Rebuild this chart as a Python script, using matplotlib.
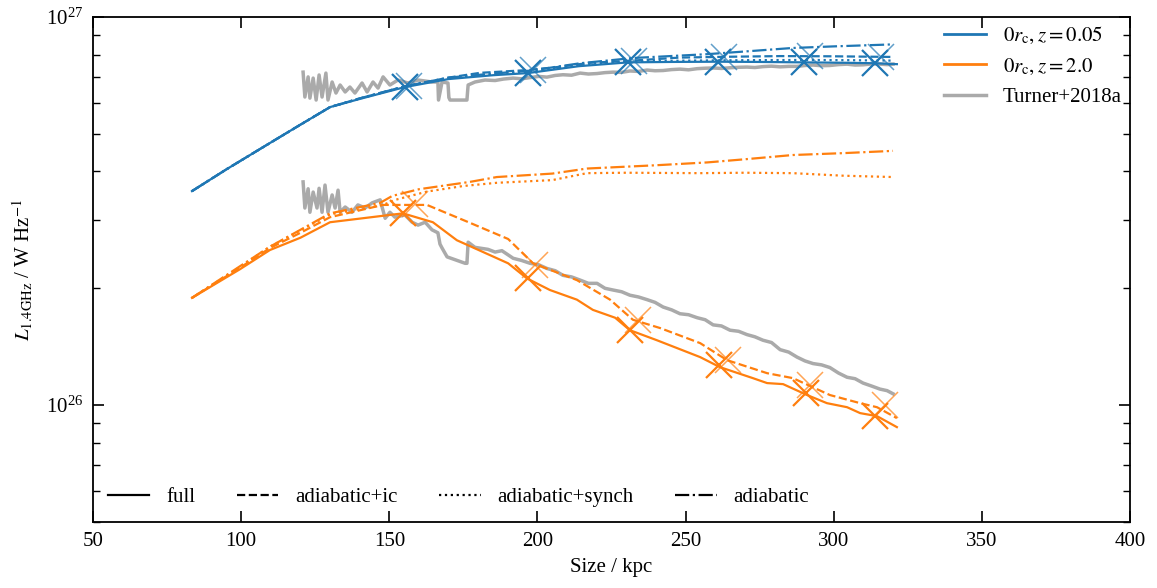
import matplotlib
matplotlib.use("Agg")
import matplotlib.pyplot as plt
from matplotlib.ticker import NullFormatter, LogLocator
from matplotlib.lines import Line2D

plt.rcParams['font.family'] = ['Liberation Serif', 'DejaVu Serif']
plt.rcParams['mathtext.fontset'] = 'stix'
plt.rcParams['font.size'] = 15

E26 = 1e26
BLUE = '#1f77b4'
ORANGE = '#ff7f0e'
GREY = '#aaaaaa'

# z = 0.05, luminosity in units of 1e26 W/Hz
b_full_x = [83.4, 95, 110, 120, 130, 140, 155.3, 170, 185, 196.8, 214, 230.6, 245, 261, 275, 290, 305, 313.9, 321.3]
b_full_y = [3.56, 4.05, 4.75, 5.28, 5.86, 6.15, 6.6, 6.92, 7.08, 7.17, 7.47, 7.64, 7.66, 7.67, 7.66, 7.64, 7.62, 7.6, 7.56]
b_ic_x = [83.4, 95, 110, 120, 130, 140, 155.3, 170, 180.6, 196.8, 206.6, 217.7, 232, 248, 265, 282, 300, 320]
b_ic_y = [3.56, 4.05, 4.75, 5.28, 5.86, 6.17, 6.63, 6.98, 7.18, 7.3, 7.43, 7.62, 7.72, 7.86, 7.9, 7.93, 7.92, 7.89]
b_syn_x = [83.4, 95, 110, 120, 130, 140, 155.3, 170, 185, 198, 214, 231, 250, 270, 290, 305, 320]
b_syn_y = [3.56, 4.05, 4.75, 5.28, 5.86, 6.16, 6.62, 6.95, 7.12, 7.22, 7.5, 7.68, 7.72, 7.74, 7.75, 7.74, 7.72]
b_adi_x = [83.4, 95, 110, 120, 130, 140, 155.3, 170, 185, 198, 214.4, 232.2, 257.2, 270, 286, 300, 320]
b_adi_y = [3.56, 4.05, 4.75, 5.28, 5.86, 6.17, 6.63, 6.98, 7.15, 7.28, 7.6, 7.84, 8.02, 8.15, 8.32, 8.4, 8.5]

# z = 2.0
o_full_x = [83.4, 99.6, 109.7, 120, 130, 154.6, 164.7, 172.8, 190.1, 196.5, 204.2, 213.3, 218.7, 226.2, 231.2,
            240.3, 254.9, 261.6, 272.7, 277.5, 282.9, 291.0, 297.7, 304.5, 308.9, 314.6, 321.3]
o_full_y = [1.89, 2.24, 2.51, 2.7, 2.96, 3.12, 2.96, 2.66, 2.32, 2.12, 1.98, 1.87, 1.76, 1.68, 1.56,
            1.47, 1.33, 1.253, 1.174, 1.14, 1.133, 1.062, 1.012, 0.988, 0.954, 0.937, 0.878]
o_ic_x = [83.4, 99.6, 109.7, 120, 130, 147.9, 162.7, 177.2, 190.1, 198.5, 213.3, 224.5, 232.2, 241.4,
          254.9, 264.0, 277.5, 286.2, 298.7, 308.9, 314.6, 321.3]
o_ic_y = [1.89, 2.26, 2.54, 2.78, 3.05, 3.28, 3.28, 2.95, 2.68, 2.32, 2.10, 1.87, 1.66, 1.58,
          1.445, 1.306, 1.209, 1.174, 1.062, 1.012, 0.988, 0.926]
o_syn_x = [83.4, 99.6, 109.7, 120, 130, 147.9, 152, 162.7, 175, 186.3, 205, 216.7, 230, 254.9, 270, 286.2, 303.4, 320]
o_syn_y = [1.89, 2.27, 2.56, 2.82, 3.1, 3.28, 3.38, 3.55, 3.67, 3.74, 3.8, 3.96, 3.97, 3.96, 3.97, 3.96, 3.9, 3.87]
o_adi_x = [83.4, 99.6, 109.7, 120, 130, 146.9, 151, 160, 177.2, 186.3, 205, 216.7, 240, 257.2, 270, 286.2, 303.4, 320]
o_adi_y = [1.89, 2.28, 2.56, 2.83, 3.12, 3.32, 3.46, 3.6, 3.76, 3.87, 3.95, 4.07, 4.15, 4.22, 4.3, 4.41, 4.46, 4.52]

# time-step markers
b_mk_x = [155.3, 196.8, 230.6, 261.0, 290.0, 313.9]
b_mk_y = [6.6, 7.17, 7.64, 7.67, 7.64, 7.6]
b_mk_ic_x = [156.5, 198.5, 232.5, 263.0, 292.0, 316.0]
b_mk_ic_y = [6.63, 7.32, 7.72, 7.87, 7.93, 7.91]
o_mk_x = [154.6, 196.8, 231.2, 261.3, 290.6, 313.9]
o_mk_y = [3.12, 2.12, 1.56, 1.268, 1.074, 0.94]
o_mk_ic_x = [158.7, 199.2, 234.0, 264.3, 292.0, 317.3]
o_mk_ic_y = [3.3, 2.3, 1.66, 1.31, 1.13, 1.0]

# Turner+2018a, upper track
t1_x = [120.9, 121.5, 122.6, 123.2, 124.3, 125.3, 126.3, 127.3, 128.6, 129.3, 130.7, 132.0, 133.4, 135.1,
        136.7, 138.4, 140.8, 142.5, 144.5, 146.2, 147.9, 150.2, 152.9, 156.3, 159.7, 164.4, 166.4, 166.6,
        167.8, 169.8, 170.1, 170.5, 176.2, 176.4, 176.6, 178.9, 182.3, 185.7, 188.5, 191.8, 194.6, 197.5,
        200.4, 203.2, 206.0, 208.6, 211.5, 214.4, 217.2, 220.1, 222.8, 225.5, 228.4, 231.2, 234.1, 237.0,
        239.7, 242.4, 245.3, 248.1, 251.0, 253.9, 256.6, 259.3, 262.1, 265.0, 267.9, 270.7, 273.4, 276.1,
        279.0, 281.9, 284.8, 287.6, 290.3, 293.0, 295.9, 298.7, 301.6, 304.5, 307.2, 309.9, 312.8, 315.6,
        318.0, 320.0]
t1_y = [7.21, 6.22, 7.01, 6.18, 6.96, 6.11, 7.09, 6.22, 7.17, 6.11, 6.8, 6.37, 6.68, 6.41,
        6.6, 6.37, 6.76, 6.41, 6.8, 6.56, 7.01, 6.68, 6.88, 6.76, 6.88, 6.8, 6.8, 6.11,
        6.8, 6.76, 6.2, 6.11, 6.11, 6.4, 6.68, 6.8, 6.88, 6.86, 6.92, 6.96, 6.93, 6.98,
        7.03, 7.0, 7.07, 7.1, 7.08, 7.17, 7.13, 7.15, 7.19, 7.21, 7.2, 7.26, 7.24, 7.3,
        7.27, 7.28, 7.32, 7.34, 7.31, 7.36, 7.38, 7.39, 7.37, 7.4, 7.42, 7.43, 7.41, 7.45,
        7.47, 7.44, 7.46, 7.46, 7.5, 7.52, 7.49, 7.5, 7.54, 7.56, 7.52, 7.53, 7.57, 7.56,
        7.54, 7.56]

# Turner+2018a, lower track
t2_x = [120.9, 121.5, 122.6, 123.2, 124.3, 125.6, 126.3, 127.3, 128.3, 129.3, 130.7, 131.7, 132.7, 133.4,
        135.1, 137.4, 139.4, 141.8, 144.2, 146.9, 148.6, 150.2, 151.9, 155.3, 157.7, 159.7, 162.1, 164.4,
        166.4, 167.1, 167.8, 169.5, 175.6, 176.2, 176.6, 178.9, 183.3, 185.7, 188.0, 191.8, 194.6, 197.5,
        200.4, 203.2, 206.0, 208.6, 211.5, 214.4, 217.2, 220.1, 222.8, 225.5, 228.4, 231.2, 234.1, 237.0,
        239.7, 242.4, 245.3, 248.1, 251.0, 253.9, 256.6, 259.3, 262.1, 265.0, 267.9, 270.7, 273.4, 276.1,
        279.0, 281.9, 284.8, 287.6, 290.3, 293.0, 295.9, 298.7, 301.6, 304.5, 307.2, 309.9, 312.8, 315.6,
        318.0, 320.0]
t2_y = [3.76, 3.22, 3.61, 3.14, 3.54, 3.22, 3.62, 3.14, 3.69, 3.14, 3.48, 3.22, 3.58, 3.14,
        3.24, 3.14, 3.28, 3.22, 3.32, 3.38, 3.03, 3.14, 3.05, 3.09, 2.96, 2.91, 2.96, 2.83,
        2.78, 2.6, 2.54, 2.41, 2.32, 2.32, 2.63, 2.55, 2.52, 2.48, 2.5, 2.39, 2.36, 2.32,
        2.3, 2.25, 2.22, 2.16, 2.14, 2.1, 2.06, 2.06, 2.0, 1.98, 1.96, 1.92, 1.9, 1.87,
        1.84, 1.79, 1.76, 1.72, 1.71, 1.68, 1.66, 1.61, 1.6, 1.56, 1.55, 1.52, 1.5, 1.47,
        1.45, 1.39, 1.37, 1.33, 1.3, 1.28, 1.27, 1.25, 1.21, 1.18, 1.17, 1.14, 1.12, 1.1,
        1.09, 1.07]

fig = plt.figure(figsize=(11.57, 5.88), dpi=100)
ax = fig.add_axes([0.0804, 0.1122, 0.8963, 0.8589])

def sc(v):
    return [a * E26 for a in v]

ax.plot(t1_x, sc(t1_y), color=GREY, lw=2.5, zorder=1)
ax.plot(t2_x, sc(t2_y), color=GREY, lw=2.5, zorder=1)

for col, full, ic, syn, adi, mk, mkic in [
        (BLUE, (b_full_x, b_full_y), (b_ic_x, b_ic_y), (b_syn_x, b_syn_y), (b_adi_x, b_adi_y),
         (b_mk_x, b_mk_y), (b_mk_ic_x, b_mk_ic_y)),
        (ORANGE, (o_full_x, o_full_y), (o_ic_x, o_ic_y), (o_syn_x, o_syn_y), (o_adi_x, o_adi_y),
         (o_mk_x, o_mk_y), (o_mk_ic_x, o_mk_ic_y))]:
    ax.plot(full[0], sc(full[1]), color=col, lw=1.6, ls='-', zorder=3)
    ax.plot(ic[0], sc(ic[1]), color=col, lw=1.6, ls='--', zorder=3)
    ax.plot(syn[0], sc(syn[1]), color=col, lw=1.6, ls=':', zorder=3)
    ax.plot(adi[0], sc(adi[1]), color=col, lw=1.6, ls='-.', zorder=3)
    ax.plot(mk[0], sc(mk[1]), ls='none', marker='x', ms=19, mew=1.6, color=col, zorder=4)
    ax.plot(mkic[0], sc(mkic[1]), ls='none', marker='x', ms=19, mew=1.1, color=col, zorder=4, alpha=0.7)

ax.set_yscale('log')
ax.set_xlim(50, 400)
ax.set_ylim(5e25, 1e27)
ax.yaxis.set_minor_formatter(NullFormatter())
ax.yaxis.set_minor_locator(LogLocator(base=10, subs=range(2, 10)))
ax.tick_params(which='both', direction='in', top=True, right=True, labelsize=15)
ax.tick_params(which='major', length=8, width=1.2, pad=7)
ax.tick_params(which='minor', length=5, width=1.0)
for s in ax.spines.values():
    s.set_linewidth(1.3)

ax.set_xlabel('Size / kpc', fontsize=15, labelpad=5)
ax.set_ylabel(r'$L_{1.4\mathrm{GHz}}$ / W Hz$^{-1}$', fontsize=15, labelpad=8)

h1 = [Line2D([], [], color=BLUE, lw=2), Line2D([], [], color=ORANGE, lw=2), Line2D([], [], color=GREY, lw=2.5)]
l1 = [r'$0r_\mathrm{c}, z = 0.05$', r'$0r_\mathrm{c}, z = 2.0$', 'Turner+2018a']
leg1 = ax.legend(h1, l1, loc='upper right', frameon=False, fontsize=15, handlelength=2.0,
                 borderaxespad=0.0)
ax.add_artist(leg1)

h2 = [Line2D([], [], color='k', lw=1.6, ls=s) for s in ['-', '--', ':', '-.']]
l2 = ['full', 'adiabatic+ic', 'adiabatic+synch', 'adiabatic']
ax.legend(h2, l2, loc='lower left', ncol=4, frameon=False, fontsize=15, handlelength=2.0,
          columnspacing=2.0, borderaxespad=0.3)

fig.savefig('out.png', dpi=100)
